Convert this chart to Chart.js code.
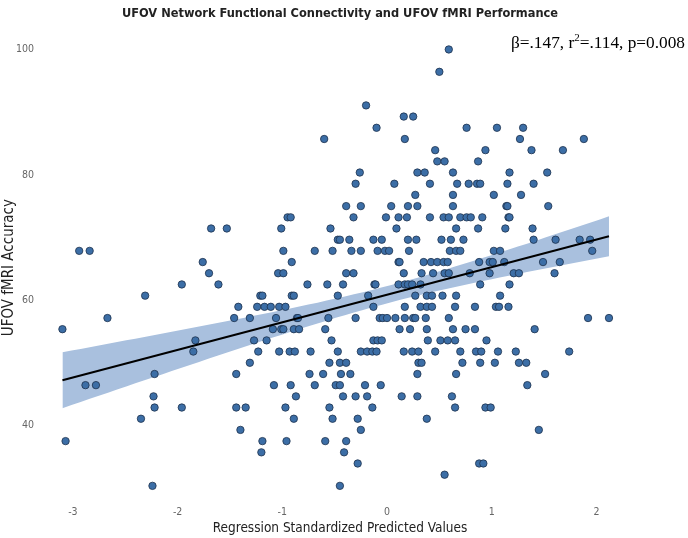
<!DOCTYPE html>
<html>
<head>
<meta charset="utf-8">
<title>UFOV Network Functional Connectivity and UFOV fMRI Performance</title>
<script src="https://cdn.jsdelivr.net/npm/chart.js@4.4.1/dist/chart.umd.min.js"></script>
<style>
  html, body { margin: 0; padding: 0; background: #fff; }
  #wrap { width: 688px; height: 538px; }
</style>
</head>
<body>
<div id="wrap"><canvas id="chart" width="688" height="538"></canvas></div>
<script>
/* Scatter: regression standardized predicted values vs UFOV fMRI accuracy */

const TITLE = 'UFOV Network Functional Connectivity and UFOV fMRI Performance';
const X_TITLE = 'Regression Standardized Predicted Values';
const Y_TITLE = 'UFOV fMRI Accuracy';
const STATS_TEXT = ['β=.147, r', '2', '=.114, p=0.008'];

const xTicks = [-3, -2, -1, 0, 1, 2];
const yTicks = [40, 60, 80, 100];

// one entry per participant, rows grouped by accuracy level
const predicted = [
  0.59,
  0.50,
  -0.20,
  0.16, 0.25,
  -0.10, 0.76, 1.05, 1.30,
  -0.60, 0.17, 1.27, 1.88,
  0.46, 0.94, 1.38, 1.68,
  0.48, 0.55, 0.87,
  -0.26, 0.29, 0.36, 0.63, 1.17, 1.53,
  -0.30, 0.07, 0.41, 0.67, 0.78, 0.86, 0.89, 1.15, 1.40,
  0.27, 0.63, 1.02, 1.28,
  -0.39, -0.25, 0.04, 0.20, 0.29, 0.63, 1.14, 1.15, 1.54,
  -0.95, -0.92, -0.32, -0.01, 0.11, 0.19, 0.41, 0.54, 0.59, 0.70, 0.76, 0.80, 0.91, 1.16, 1.17,
  -1.68, -1.53, -1.01, -0.54, 0.09, 0.66, 0.87, 1.13, 1.39,
  -0.47, -0.45, -0.36, -0.13, -0.05, 0.20, 0.28, 0.52, 0.61, 0.73, 1.40, 1.61, 1.84, 1.94,
  -2.94, -2.84, -0.99, -0.69, -0.52, -0.34, -0.25, -0.09, -0.02, 0.02, 0.21, 0.60, 0.66, 0.70, 1.02, 1.08, 1.96,
  -1.76, -0.91, 0.11, 0.12, 0.35, 0.42, 0.48, 0.54, 0.58, 0.88, 0.98, 1.01, 1.12, 1.49, 1.65,
  -1.70, -1.04, -0.99, -0.39, -0.32, 0.16, 0.33, 0.44, 0.55, 0.59, 0.79, 0.98, 1.21, 1.26, 1.60,
  -1.96, -1.61, -0.76, -0.57, -0.42, -0.12, -0.11, 0.11, 0.17, 0.20, 0.24, 0.32, 0.89, 1.17,
  -2.31, -1.21, -1.19, -0.91, -0.89, -0.47, -0.18, 0.27, 0.38, 0.43, 0.53, 0.66, 1.08,
  -1.42, -1.24, -1.17, -1.11, -1.03, -0.97, -0.13, 0.17, 0.32, 0.38, 0.43, 0.65, 0.84, 1.04, 1.07, 1.16,
  -2.67, -1.46, -1.31, -1.06, -0.86, -0.85, -0.56, -0.30, -0.07, -0.04, 0.00, 0.08, 0.17, 0.25, 0.27, 0.37, 0.59, 1.92, 2.12,
  -3.10, -1.09, -1.01, -0.99, -0.89, -0.84, -0.59, 0.12, 0.22, 0.38, 0.63, 0.75, 0.84, 1.41,
  -1.83, -1.27, -1.15, -0.53, -0.13, -0.09, -0.05, 0.39, 0.51, 0.58, 0.65, 0.95,
  -1.85, -1.23, -1.03, -0.93, -0.88, -0.73, -0.47, -0.25, -0.19, -0.14, -0.10, 0.16, 0.24, 0.30, 0.46, 0.70, 0.85, 0.90, 1.06, 1.23, 1.74,
  -1.31, -0.55, -0.45, -0.39, 0.30, 0.33, 0.72, 0.89, 1.03, 1.26, 1.33,
  -2.22, -1.44, -0.74, -0.61, -0.44, -0.35, 0.29, 0.66, 1.51,
  -2.88, -2.78, -1.08, -0.92, -0.69, -0.49, -0.45, -0.21, -0.06, 1.34,
  -2.23, -0.87, -0.42, -0.30, -0.19, 0.14, 0.29, 0.62,
  -2.22, -1.96, -1.44, -1.35, -0.97, -0.55, -0.14, 0.65, 0.94, 0.99,
  -2.35, -0.89, -0.52, -0.28, 0.38,
  -1.40, -0.25, 1.45,
  -3.07, -1.19, -0.96, -0.59, -0.39,
  -1.20, -0.41,
  -0.28, 0.88, 0.92,
  0.55,
  -2.24, -0.45
];

const accuracy = [
  100.00,
  96.43,
  91.07,
  89.29, 89.29,
  87.50, 87.50, 87.50, 87.50,
  85.71, 85.71, 85.71, 85.71,
  83.93, 83.93, 83.93, 83.93,
  82.14, 82.14, 82.14,
  80.36, 80.36, 80.36, 80.36, 80.36, 80.36,
  78.57, 78.57, 78.57, 78.57, 78.57, 78.57, 78.57, 78.57, 78.57,
  76.79, 76.79, 76.79, 76.79,
  75.00, 75.00, 75.00, 75.00, 75.00, 75.00, 75.00, 75.00, 75.00,
  73.21, 73.21, 73.21, 73.21, 73.21, 73.21, 73.21, 73.21, 73.21, 73.21, 73.21, 73.21, 73.21, 73.21, 73.21,
  71.43, 71.43, 71.43, 71.43, 71.43, 71.43, 71.43, 71.43, 71.43,
  69.64, 69.64, 69.64, 69.64, 69.64, 69.64, 69.64, 69.64, 69.64, 69.64, 69.64, 69.64, 69.64, 69.64,
  67.86, 67.86, 67.86, 67.86, 67.86, 67.86, 67.86, 67.86, 67.86, 67.86, 67.86, 67.86, 67.86, 67.86, 67.86, 67.86, 67.86,
  66.07, 66.07, 66.07, 66.07, 66.07, 66.07, 66.07, 66.07, 66.07, 66.07, 66.07, 66.07, 66.07, 66.07, 66.07,
  64.29, 64.29, 64.29, 64.29, 64.29, 64.29, 64.29, 64.29, 64.29, 64.29, 64.29, 64.29, 64.29, 64.29, 64.29,
  62.50, 62.50, 62.50, 62.50, 62.50, 62.50, 62.50, 62.50, 62.50, 62.50, 62.50, 62.50, 62.50, 62.50,
  60.71, 60.71, 60.71, 60.71, 60.71, 60.71, 60.71, 60.71, 60.71, 60.71, 60.71, 60.71, 60.71,
  58.93, 58.93, 58.93, 58.93, 58.93, 58.93, 58.93, 58.93, 58.93, 58.93, 58.93, 58.93, 58.93, 58.93, 58.93, 58.93,
  57.14, 57.14, 57.14, 57.14, 57.14, 57.14, 57.14, 57.14, 57.14, 57.14, 57.14, 57.14, 57.14, 57.14, 57.14, 57.14, 57.14, 57.14, 57.14,
  55.36, 55.36, 55.36, 55.36, 55.36, 55.36, 55.36, 55.36, 55.36, 55.36, 55.36, 55.36, 55.36, 55.36,
  53.57, 53.57, 53.57, 53.57, 53.57, 53.57, 53.57, 53.57, 53.57, 53.57, 53.57, 53.57,
  51.79, 51.79, 51.79, 51.79, 51.79, 51.79, 51.79, 51.79, 51.79, 51.79, 51.79, 51.79, 51.79, 51.79, 51.79, 51.79, 51.79, 51.79, 51.79, 51.79, 51.79,
  50.00, 50.00, 50.00, 50.00, 50.00, 50.00, 50.00, 50.00, 50.00, 50.00, 50.00,
  48.21, 48.21, 48.21, 48.21, 48.21, 48.21, 48.21, 48.21, 48.21,
  46.43, 46.43, 46.43, 46.43, 46.43, 46.43, 46.43, 46.43, 46.43, 46.43,
  44.64, 44.64, 44.64, 44.64, 44.64, 44.64, 44.64, 44.64,
  42.86, 42.86, 42.86, 42.86, 42.86, 42.86, 42.86, 42.86, 42.86, 42.86,
  41.07, 41.07, 41.07, 41.07, 41.07,
  39.29, 39.29, 39.29,
  37.50, 37.50, 37.50, 37.50, 37.50,
  35.71, 35.71,
  33.93, 33.93, 33.93,
  32.14,
  30.36, 30.36
];

const NARROW = "'Liberation Sans Narrow', 'Arial Narrow', 'DejaVu Sans Condensed', sans-serif";
const POINT_FILL = '#3c6ea6';
const POINT_EDGE = '#1d314d';
const BAND_FILL = '#a9c0de';

// least squares fit + 95% CI of the mean, from the points above
function fitRegression(xs, ys) {
  const n = xs.length;
  const mx = xs.reduce((s, v) => s + v, 0) / n;
  const my = ys.reduce((s, v) => s + v, 0) / n;
  let sxx = 0, sxy = 0;
  for (let i = 0; i < n; i++) {
    sxx += (xs[i] - mx) * (xs[i] - mx);
    sxy += (xs[i] - mx) * (ys[i] - my);
  }
  const slope = sxy / sxx;
  const icpt = my - slope * mx;
  let sse = 0;
  for (let i = 0; i < n; i++) {
    const r = ys[i] - (icpt + slope * xs[i]);
    sse += r * r;
  }
  const se = Math.sqrt(sse / (n - 2));
  return { n, mx, sxx, slope, icpt, se };
}

const fit = fitRegression(predicted, accuracy);
const xMin = Math.min(...predicted);
const xMax = Math.max(...predicted);
const fitLine = [xMin, xMax].map(x => ({ x, y: fit.icpt + fit.slope * x }));
const bandUpper = [];
const bandLower = [];
for (let i = 0; i <= 60; i++) {
  const x = xMin + (xMax - xMin) * i / 60;
  const yhat = fit.icpt + fit.slope * x;
  const hw = 1.968 * fit.se * Math.sqrt(1 / fit.n + (x - fit.mx) * (x - fit.mx) / fit.sxx);
  bandUpper.push({ x, y: yhat + hw });
  bandLower.push({ x, y: yhat - hw });
}

const points = predicted.map((x, i) => ({ x, y: accuracy[i] }));

const statsLabel = {
  id: 'statsLabel',
  afterDraw(chart) {
    const ctx = chart.ctx;
    ctx.save();
    ctx.fillStyle = '#000';
    ctx.textBaseline = 'alphabetic';
    let x = 511;
    const y = 48;
    ctx.font = "17.3px 'Liberation Serif', 'Times New Roman', serif";
    ctx.fillText(STATS_TEXT[0], x, y);
    x += ctx.measureText(STATS_TEXT[0]).width;
    ctx.font = "11px 'Liberation Serif', 'Times New Roman', serif";
    ctx.fillText(STATS_TEXT[1], x, y - 7);
    x += ctx.measureText(STATS_TEXT[1]).width;
    ctx.font = "17.3px 'Liberation Serif', 'Times New Roman', serif";
    ctx.fillText(STATS_TEXT[2], x, y);
    ctx.restore();
  }
};

new Chart(document.getElementById('chart'), {
  data: {
    datasets: [
      {
        type: 'line',
        data: bandUpper,
        fill: '+1',
        backgroundColor: BAND_FILL,
        borderWidth: 0,
        pointRadius: 0,
        order: 3
      },
      {
        type: 'line',
        data: bandLower,
        fill: false,
        borderWidth: 0,
        pointRadius: 0,
        order: 3
      },
      {
        type: 'scatter',
        data: points,
        backgroundColor: POINT_FILL,
        borderColor: POINT_EDGE,
        borderWidth: 0.8,
        pointRadius: 3.7,
        order: 2
      },
      {
        type: 'line',
        data: fitLine,
        borderColor: '#000',
        borderWidth: 2,
        pointRadius: 0,
        fill: false,
        order: 1
      }
    ]
  },
  options: {
    responsive: false,
    animation: false,
    layout: { padding: { left: 0, right: 63, top: 0, bottom: 0 } },
    plugins: {
      legend: { display: false },
      tooltip: { enabled: false },
      title: {
        display: true,
        text: TITLE,
        fullSize: false,
        color: '#222',
        font: { family: NARROW, size: 12.7, weight: 'bold' },
        padding: { top: 6, bottom: 19 }
      }
    },
    scales: {
      x: {
        type: 'linear',
        min: -3.171,
        max: 2.273,
        grid: { display: false, drawTicks: false },
        border: { display: false },
        afterBuildTicks: s => { s.ticks = xTicks.map(v => ({ value: v })); },
        afterFit: s => { s.height = 43; },
        ticks: {
          color: '#666',
          padding: 11,
          font: { family: NARROW, size: 10.5 }
        },
        title: {
          display: true,
          text: X_TITLE,
          color: '#222',
          padding: { top: 1, bottom: 1 },
          font: { family: NARROW, size: 13.5 }
        }
      },
      y: {
        type: 'linear',
        min: 28.9,
        max: 101.47,
        grid: { display: false, drawTicks: false },
        border: { display: false },
        afterBuildTicks: s => { s.ticks = yTicks.map(v => ({ value: v })); },
        afterFit: s => { s.width = 55; },
        ticks: {
          color: '#666',
          padding: 21,
          font: { family: NARROW, size: 10.5 }
        },
        title: {
          display: true,
          text: Y_TITLE,
          color: '#222',
          padding: { top: 0, bottom: 0 },
          font: { family: NARROW, size: 15 }
        }
      }
    }
  },
  plugins: [statsLabel]
});
</script>
</body>
</html>
